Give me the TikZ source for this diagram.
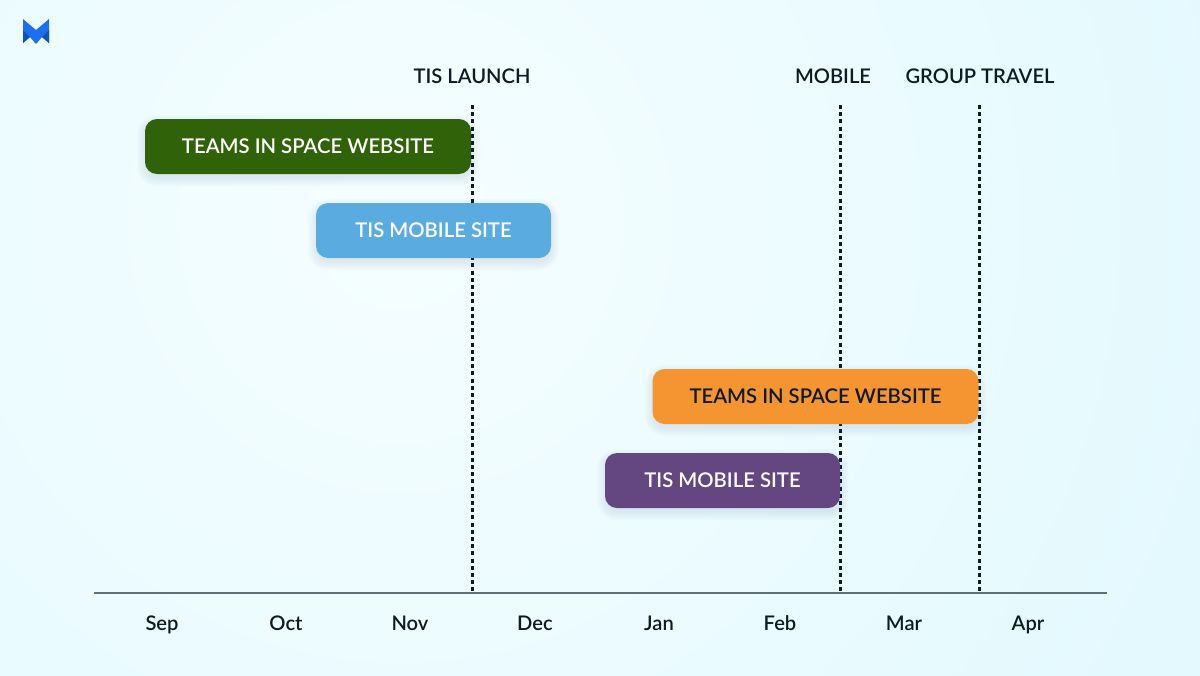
\documentclass[tikz,border=0pt]{standalone}
\usepackage{fontspec}
\setmainfont{Lato Semibold}
\definecolor{bgcenter}{HTML}{F5FEFF}
\definecolor{bgouter}{HTML}{DCF7FE}
\definecolor{ink}{HTML}{0E1A24}
\definecolor{axiscol}{HTML}{5E7078}
\definecolor{shadowcol}{HTML}{3A6E80}
\definecolor{greenbar}{HTML}{2F6209}
\definecolor{bluebar}{HTML}{5AACE0}
\definecolor{orangebar}{HTML}{F59532}
\definecolor{purplebar}{HTML}{644681}
\definecolor{logoblue}{HTML}{1C6FF0}
\definecolor{logodark}{HTML}{0F52B8}
\newcommand{\softshade}[4]{%
  \foreach \g/\r in {8/15,6/13,4/11,2/10,0/9}{
    \fill[shadowcol,opacity=.024,rounded corners=\r pt] (#1-\g,#2-\g+4) rectangle (#3+\g,#4+\g+4);
  }}
\tikzset{
  x=0.75pt,y=-0.75pt,
  taskbar/.style={rounded corners=9pt,minimum height=40.5pt,inner sep=0pt,font=\fontsize{15.2}{18}\selectfont,text=white},
  longbar/.style={taskbar,minimum width=244.5pt},
  shortbar/.style={taskbar,minimum width=176.25pt},
  milestone/.style={font=\fontsize{15.1}{18}\selectfont,text=ink,inner sep=0pt,anchor=base},
  month/.style={font=\fontsize{15.1}{18}\selectfont,text=ink,inner sep=0pt,anchor=base},
  deadline/.style={draw=ink,line width=1.9pt,dash pattern=on 3pt off 2.4pt},
  axisline/.style={draw=axiscol,line width=1.1pt}
}
\begin{document}
\begin{tikzpicture}
\useasboundingbox (0,0) rectangle (1200,675);
\begin{scope}
  \clip (0,0) rectangle (1200,675);
  \fill[inner color=bgcenter,outer color=bgouter] (400,220) circle (1240);
\end{scope}
% logo
\fill[logoblue] (23,19) -- (36,30) -- (49,19) -- (49,43) -- (42,37) -- (36,44) -- (30,37) -- (23,43) -- cycle;
\fill[logodark] (23,30) -- (30,37) -- (23,43) -- cycle;
\fill[logodark] (49,30) -- (42,37) -- (49,43) -- cycle;
% milestone labels
\node[milestone] (launch) at (472,83) {TIS LAUNCH};
\node[milestone] (mobile) at (833,83) {MOBILE};
\node[milestone] (group) at (980,83) {GROUP TRAVEL};
% axis
\coordinate (axl) at (94,593);
\coordinate (axr) at (1107,593);
\coordinate (d1t) at (472.5,105);
\coordinate (d1b) at (472.5,593);
\coordinate (d2t) at (840.5,105);
\coordinate (d2b) at (840.5,593);
\coordinate (d3t) at (979.5,105);
\coordinate (d3b) at (979.5,593);
\draw[deadline] (d1t) -- (d1b);
\draw[deadline] (d2t) -- (d2b);
\draw[deadline] (d3t) -- (d3b);
\draw[axisline] (axl) -- (axr);
% bars
\softshade{145}{119}{471}{174}
\softshade{316}{203}{551}{258}
\softshade{653}{369}{978}{424}
\softshade{605}{453}{840}{508}
\node[longbar,fill=greenbar,minimum height=41.25pt] (web1) at (308,146.5) {TEAMS IN SPACE WEBSITE};
\node[shortbar,fill=bluebar,minimum height=41.25pt] (mob1) at (433.5,230.5) {TIS MOBILE SITE};
\node[longbar,fill=orangebar,text=ink,minimum height=41.25pt] (web2) at (815.5,396.5) {TEAMS IN SPACE WEBSITE};
\node[shortbar,fill=purplebar,minimum height=41.25pt] (mob2) at (722.5,480.5) {TIS MOBILE SITE};
% months
\node[month] (sep) at (162,630) {Sep};
\node[month] (oct) at (286,630) {Oct};
\node[month] (nov) at (410,630) {Nov};
\node[month] (dec) at (535,630) {Dec};
\node[month] (jan) at (659,630) {Jan};
\node[month] (feb) at (780,630) {Feb};
\node[month] (mar) at (904,630) {Mar};
\node[month] (apr) at (1028,630) {Apr};
\end{tikzpicture}
\end{document}
